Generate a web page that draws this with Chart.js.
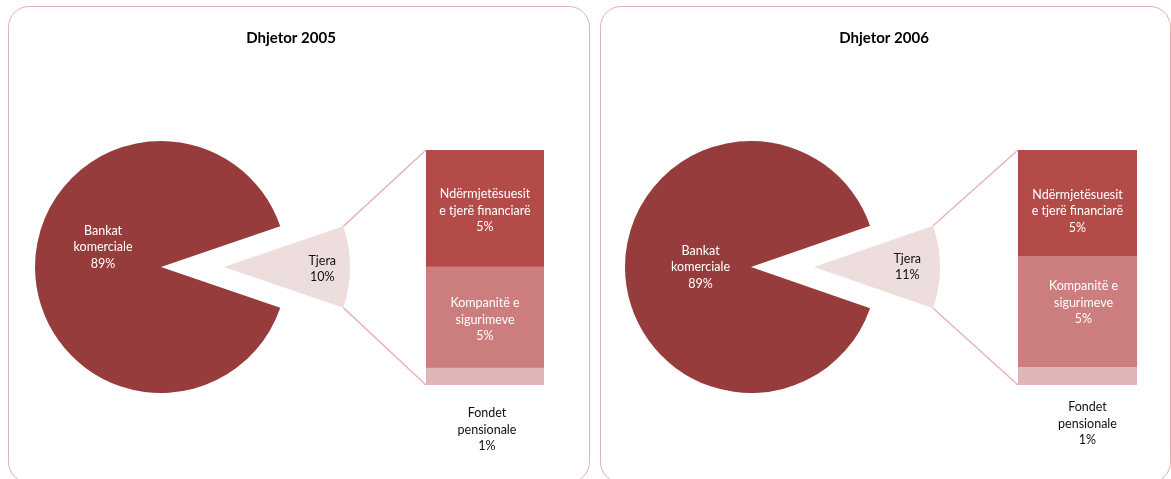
<!DOCTYPE html>
<html>
<head>
<meta charset="utf-8">
<script src="https://cdn.jsdelivr.net/npm/chart.js@4.4.1/dist/chart.umd.min.js"></script>
<style>
  html, body { margin: 0; padding: 0; background: #ffffff; }
  #page { position: relative; width: 1171px; height: 479px; overflow: hidden; background: #ffffff; }
  .panel { position: absolute; border: 1.5px solid #E6B0B0; border-radius: 21px; box-sizing: border-box; }
  #page canvas { position: absolute; left: 0; top: 0; }
</style>
</head>
<body>
<div id="page">
  <div class="panel" style="left:8px;top:6px;width:582px;height:477px"></div>
  <div class="panel" style="left:600px;top:6px;width:571px;height:477px"></div>
  <canvas id="pie0" width="1171" height="479"></canvas>
  <canvas id="bar0" width="1171" height="479"></canvas>
  <canvas id="pie1" width="1171" height="479"></canvas>
  <canvas id="bar1" width="1171" height="479"></canvas>
</div>
<script>
// Structure of the financial system (shares in %), December 2005 and 2006
const periods = ['Dhjetor 2005', 'Dhjetor 2006'];
const pieLabels = ['Bankat\nkomerciale', 'Tjera'];
const barLabels = ['Fondet\npensionale', 'Kompanitë e\nsigurimeve', 'Ndërmjetësuesit\ne tjerë financiarë'];

const bankat = [89.45, 89.4];
const fondetPensionale = [0.75, 0.8];
const kompaniteSigurimeve = [4.5, 5.0];
const ndermjetesuesit = [5.2, 4.8];

// colours
const cBankat = '#963C3C';
const cTjera = '#EDDDDD';
const cNderm = '#B34B49';
const cKomp = '#CC7D7D';
const cFondet = '#DFB5B5';
const cLink = '#E6B6B6';
const FONT = 'Lato, "Open Sans", sans-serif';

// layout of each panel (page pixels)
const layouts = [
  { pieX: 161, pieY: 267, radius: 126, explode: 63,
    barLeft: 426, barRight: 544, barTop: 150, barBottom: 385,
    titleX: 291, titleY: 38,
    pieLabelK: [0.46, 0.78], pieShift: [[0, -20], [0, 2]],
    barShift: [[2, 28], [0, 2], [0, 2]] },
  { pieX: 751, pieY: 267, radius: 126, explode: 63,
    barLeft: 1018, barRight: 1137, barTop: 150, barBottom: 385,
    titleX: 884, titleY: 38,
    pieLabelK: [0.40, 0.74], pieShift: [[0, 0], [0, 0]],
    barShift: [[10, 22], [6, -9], [0, 8]] }
];

const W = 1171, H = 479;

function drawLines(ctx, lines, x, y, color, lh) {
  ctx.save();
  ctx.font = '12.5px ' + FONT;
  ctx.fillStyle = color;
  ctx.textAlign = 'center';
  ctx.textBaseline = 'middle';
  const y0 = y - (lines.length - 1) * lh / 2;
  lines.forEach((t, i) => ctx.fillText(t, x, y0 + i * lh));
  ctx.restore();
}

function pct(v) { return Math.round(v) + '%'; }

function makePanel(p) {
  const L = layouts[p];
  const tjera = fondetPensionale[p] + kompaniteSigurimeve[p] + ndermjetesuesit[p];
  const pieData = [bankat[p], tjera];
  const tjeraDeg = 360 * tjera / (bankat[p] + tjera);

  // pie padding so that the chart area is centred on the pie centre
  const padLeft = Math.max(0, 2 * L.pieX - W);
  const padRight = Math.max(0, W - 2 * L.pieX);
  const padTop = Math.max(0, 2 * L.pieY - H);
  const padBottom = Math.max(0, H - 2 * L.pieY);

  const pieParts = {
    id: 'pieParts',
    beforeDatasetsDraw(chart) {
      const a = chart.chartArea;
      const el = chart.getDatasetMeta(0).data[1];
      el.x = (a.left + a.right) / 2 + L.explode;
    },
    afterDatasetsDraw(chart) {
      const meta = chart.getDatasetMeta(0);
      const colors = ['#FFFFFF', '#111111'];
      meta.data.forEach((el, i) => {
        const mid = (el.startAngle + el.endAngle) / 2;
        const k = L.pieLabelK[i];
        const x = el.x + Math.cos(mid) * el.outerRadius * k + L.pieShift[i][0];
        const y = el.y + Math.sin(mid) * el.outerRadius * k + L.pieShift[i][1];
        const lines = chart.data.labels[i].split('\n').concat(pct(pieData[i]));
        drawLines(chart.ctx, lines, x, y, colors[i], 16.5);
      });
    }
  };

  const pie = new Chart(document.getElementById('pie' + p), {
    type: 'pie',
    data: {
      labels: pieLabels,
      datasets: [{ data: pieData, backgroundColor: [cBankat, cTjera], borderWidth: 0 }]
    },
    options: {
      responsive: false, animation: false, events: [], devicePixelRatio: 1,
      radius: L.radius,
      rotation: 90 + tjeraDeg / 2,
      layout: { padding: { left: padLeft, right: padRight, top: padTop, bottom: padBottom } },
      plugins: { legend: { display: false }, tooltip: { enabled: false }, title: { display: false } }
    },
    plugins: [pieParts]
  });

  const barParts = {
    id: 'barParts',
    beforeDatasetsDraw(chart) {
      const ctx = chart.ctx;
      const a = chart.chartArea;
      const yS = chart.scales.y;
      const pa = pie.chartArea;
      const el = pie.getDatasetMeta(0).data[1];
      const cx = (pa.left + pa.right) / 2 + L.explode;
      const cy = (pa.top + pa.bottom) / 2;
      const r = el.outerRadius;
      ctx.save();
      ctx.strokeStyle = cLink;
      ctx.lineWidth = 1.5;
      ctx.beginPath();
      ctx.moveTo(cx + Math.cos(el.startAngle) * r, cy + Math.sin(el.startAngle) * r);
      ctx.lineTo(a.left, yS.getPixelForValue(tjera));
      ctx.moveTo(cx + Math.cos(el.endAngle) * r, cy + Math.sin(el.endAngle) * r);
      ctx.lineTo(a.left, yS.getPixelForValue(0));
      ctx.stroke();
      // panel title
      ctx.font = 'bold 15px ' + FONT;
      ctx.fillStyle = '#000000';
      ctx.textAlign = 'center';
      ctx.textBaseline = 'middle';
      ctx.fillText(periods[p], L.titleX, L.titleY);
      ctx.restore();
    },
    afterDatasetsDraw(chart) {
      const ctx = chart.ctx;
      chart.data.datasets.forEach((ds, i) => {
        const el = chart.getDatasetMeta(i).data[0];
        const lines = ds.label.split('\n').concat(pct(ds.data[0]));
        const sh = L.barShift[i];
        if (i === 0) {
          // thin bottom segment: its label sits below the bar
          const top = Math.max(el.y, el.base) + sh[1];
          drawLines(ctx, lines, el.x + sh[0], top + 16.5, '#111111', 16.5);
        } else {
          drawLines(ctx, lines, el.x + sh[0], (el.y + el.base) / 2 + sh[1], '#FFFFFF', 16.5);
        }
      });
    }
  };

  new Chart(document.getElementById('bar' + p), {
    type: 'bar',
    data: {
      labels: ['Tjera'],
      datasets: [
        { label: barLabels[0], data: [fondetPensionale[p]], backgroundColor: cFondet },
        { label: barLabels[1], data: [kompaniteSigurimeve[p]], backgroundColor: cKomp },
        { label: barLabels[2], data: [ndermjetesuesit[p]], backgroundColor: cNderm }
      ]
    },
    options: {
      responsive: false, animation: false, events: [], devicePixelRatio: 1,
      borderWidth: 0,
      barPercentage: 1, categoryPercentage: 1,
      layout: { padding: { left: L.barLeft, right: W - L.barRight, top: L.barTop, bottom: H - L.barBottom } },
      scales: {
        x: { display: false, stacked: true },
        y: { display: false, stacked: true, min: 0, max: tjera }
      },
      plugins: { legend: { display: false }, tooltip: { enabled: false }, title: { display: false } }
    },
    plugins: [barParts]
  });
}

makePanel(0);
makePanel(1);
</script>
</body>
</html>
